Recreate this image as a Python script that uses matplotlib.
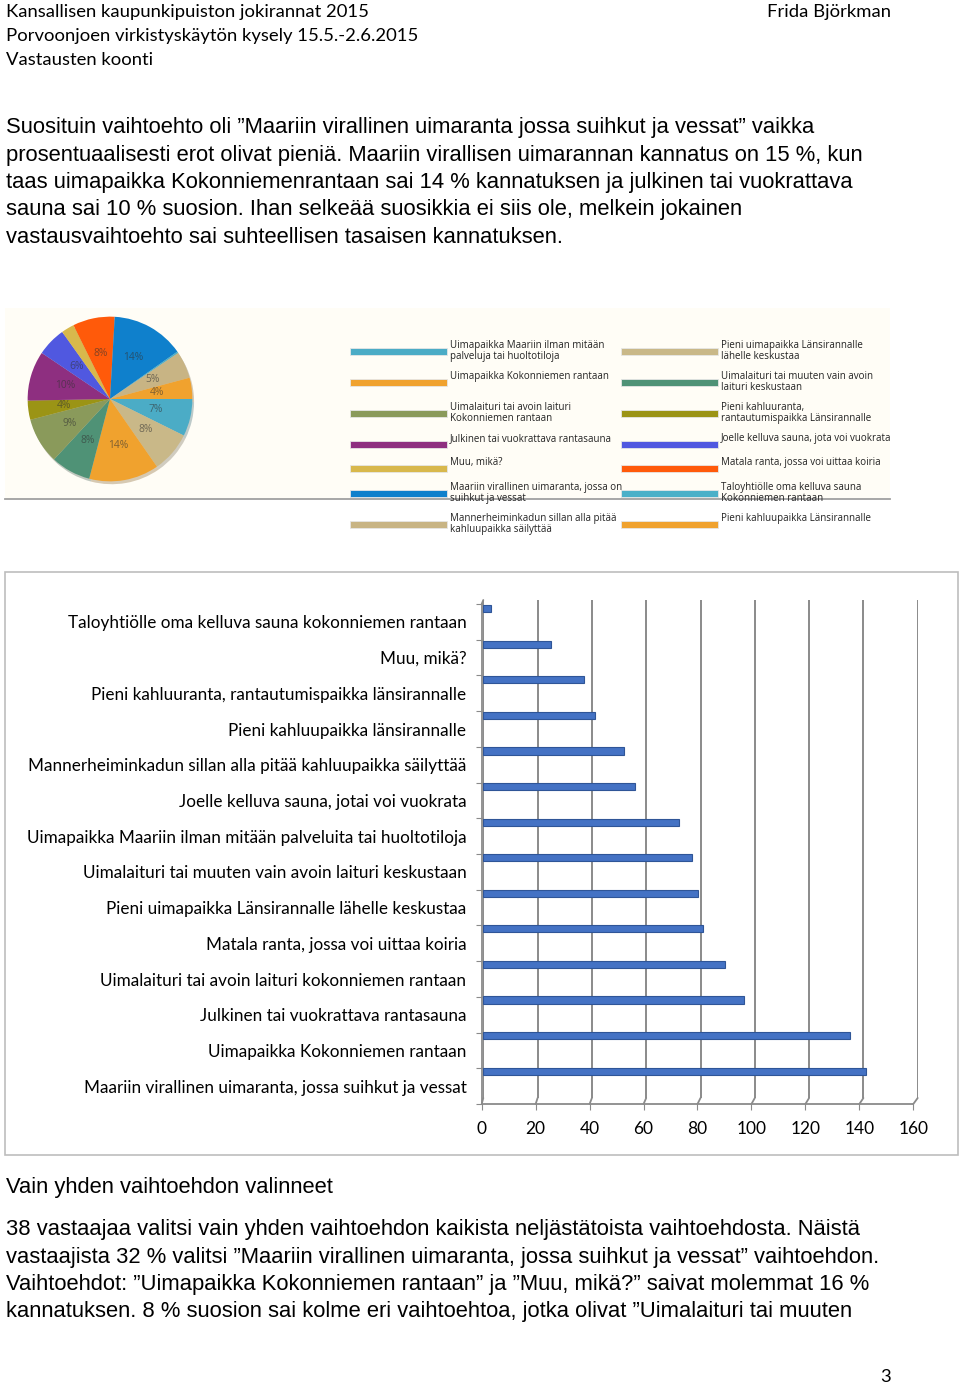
import numpy as np
import matplotlib.pyplot as plt
from matplotlib.patches import Rectangle, ConnectionPatch

W, H = 960, 1386

# page texts
header_lines = ["Kansallisen kaupunkipuiston jokirannat 2015",
                "Porvoonjoen virkistyskäytön kysely 15.5.-2.6.2015",
                "Vastausten koonti"]
header_right = "Frida Björkman"
intro_lines = [
    "Suosituin vaihtoehto oli ”Maariin virallinen uimaranta jossa suihkut ja vessat” vaikka",
    "prosentuaalisesti erot olivat pieniä. Maariin virallisen uimarannan kannatus on 15 %, kun",
    "taas uimapaikka Kokonniemenrantaan sai 14 % kannatuksen ja julkinen tai vuokrattava",
    "sauna sai 10 % suosion. Ihan selkeää suosikkia ei siis ole, melkein jokainen",
    "vastausvaihtoehto sai suhteellisen tasaisen kannatuksen.",
]
section_title = "Vain yhden vaihtoehdon valinneet"
outro_lines = [
    "38 vastaajaa valitsi vain yhden vaihtoehdon kaikista neljästätoista vaihtoehdosta. Näistä",
    "vastaajista 32 % valitsi ”Maariin virallinen uimaranta, jossa suihkut ja vessat” vaihtoehdon.",
    "Vaihtoehdot: ”Uimapaikka Kokonniemen rantaan” ja ”Muu, mikä?” saivat molemmat 16 %",
    "kannatuksen. 8 % suosion sai kolme eri vaihtoehtoa, jotka olivat ”Uimalaituri tai muuten",
]
page_no = "3"

# pie chart (legend order, row by row)
pie_labels = ["Uimapaikka Maariin ilman mitään\npalveluja tai huoltotiloja",
              "Pieni uimapaikka Länsirannalle\nlähelle keskustaa",
              "Uimapaikka Kokonniemen rantaan",
              "Uimalaituri tai muuten vain avoin\nlaituri keskustaan",
              "Uimalaituri tai avoin laituri\nKokonniemen rantaan",
              "Pieni kahluuranta,\nrantautumispaikka Länsirannalle",
              "Julkinen tai vuokrattava rantasauna",
              "Joelle kelluva sauna, jota voi vuokrata",
              "Muu, mikä?",
              "Matala ranta, jossa voi uittaa koiria",
              "Maariin virallinen uimaranta, jossa on\nsuihkut ja vessat",
              "Taloyhtiölle oma kelluva sauna\nKokonniemen rantaan",
              "Mannerheiminkadun sillan alla pitää\nkahluupaikka säilyttää",
              "Pieni kahluupaikka Länsirannalle"]
pie_values = [72, 79, 135, 77, 89, 37, 96, 56, 25, 81, 141, 3, 52, 41]
pie_colors = ["#4bacc6", "#c9b888", "#f0a22e", "#4f9276", "#8a9a5b", "#9b9415",
              "#8e2f80", "#5058e0", "#d8b84c", "#ff5a0a", "#0f80cc", "#4bb0c8",
              "#c8b484", "#f0a22e"]

# bar chart (top to bottom)
bar_labels = ["Taloyhtiölle oma kelluva sauna kokonniemen rantaan",
              "Muu, mikä?",
              "Pieni kahluuranta, rantautumispaikka länsirannalle",
              "Pieni kahluupaikka länsirannalle",
              "Mannerheiminkadun sillan alla pitää kahluupaikka säilyttää",
              "Joelle kelluva sauna, jotai voi vuokrata",
              "Uimapaikka Maariin ilman mitään palveluita tai huoltotiloja",
              "Uimalaituri tai muuten vain avoin laituri keskustaan",
              "Pieni uimapaikka Länsirannalle lähelle keskustaa",
              "Matala ranta, jossa voi uittaa koiria",
              "Uimalaituri tai avoin laituri kokonniemen rantaan",
              "Julkinen tai vuokrattava rantasauna",
              "Uimapaikka Kokonniemen rantaan",
              "Maariin virallinen uimaranta, jossa suihkut ja vessat"]
bar_values = [3, 25, 37, 41, 52, 56, 72, 77, 79, 81, 89, 96, 135, 141]
x_ticks = [0, 20, 40, 60, 80, 100, 120, 140, 160]


def box(x0, y0, x1, y1):
    # pixel box (top-left origin) -> figure rect
    return [x0 / W, 1 - y1 / H, (x1 - x0) / W, (y1 - y0) / H]


fig = plt.figure(figsize=(W / 100, H / 100), dpi=100)
fig.patch.set_facecolor("white")

page = fig.add_axes([0, 0, 1, 1], zorder=0)
page.set_xlim(0, W); page.set_ylim(H, 0); page.axis("off")

hfont = dict(family="Lato", fontsize=13.3, color="black", va="center")
for i, s in enumerate(header_lines):
    page.text(6, 12 + 24.2 * i, s, **hfont)
page.text(891, 12, header_right, ha="right", **hfont)

bfont = dict(family="Liberation Sans", fontsize=15.85, color="black", va="center")
for i, s in enumerate(intro_lines):
    page.text(6, 128 + 27.3 * i, s, **bfont)
page.text(6, 1187, section_title, **bfont)
for i, s in enumerate(outro_lines):
    page.text(6, 1230 + 27.2 * i, s, **bfont)
page.text(891, 1377, page_no, ha="right", **hfont)

# pie panel background and legend
page.add_patch(Rectangle((5, 308), 885, 191, facecolor="#fffdf6", edgecolor="none"))
page.plot([5, 890], [499, 499], color="#a0a0a0", lw=1.3)
row_y = [351, 382, 413, 444, 468, 493, 524]
for k, (lab, col) in enumerate(zip(pie_labels, pie_colors)):
    r, c = divmod(k, 2)
    x0 = 350 if c == 0 else 621
    page.add_patch(Rectangle((x0, row_y[r] - 3.5), 97, 7, facecolor=col,
                             edgecolor="#e6e6e6", lw=0.6))
    page.text(x0 + 100, row_y[r] - 11, lab, family="Open Sans", fontsize=7.05,
              color="#222222", va="top", ha="left", linespacing=1.05)

# bar panel border
page.add_patch(Rectangle((5, 572), 953, 583, facecolor="none", edgecolor="#bdbdbd", lw=1.2))

# pie
axp = fig.add_axes(box(26, 315, 194, 483), zorder=2)
wedges, _, autotexts = axp.pie(
    pie_values, colors=pie_colors, startangle=0, counterclock=False,
    autopct=lambda p: f"{p:.0f}%" if p >= 3.5 else "", pctdistance=0.57,
    textprops=dict(fontsize=7.4, family="Open Sans", color="#333333", alpha=0.6),
    shadow=dict(ox=0.015, oy=-0.025, shade=0.5, alpha=0.3),
    wedgeprops=dict(linewidth=0))
axp.set_xlim(-1.02, 1.02); axp.set_ylim(-1.02, 1.02)

# bar chart: back plane (bars + gridlines) and front plane (labels, floor)
n = len(bar_values)
axb = fig.add_axes(box(483.3, 600, 917.7, 1098), zorder=2)
axb.set_xlim(0, 160); axb.set_ylim(n, 0)
axb.patch.set_alpha(0)
for s in axb.spines.values():
    s.set_visible(False)
axb.set_xticks([]); axb.set_yticks([])
for v in x_ticks:
    axb.axvline(v, color="#8a8a8a", lw=1.4, zorder=1)
ypos = np.arange(n) + 0.245
axb.barh(ypos, bar_values, height=0.2, color="#4472c4", edgecolor="#2f5597",
         linewidth=0.8, zorder=3)

axf = fig.add_axes(box(481.7, 604, 913.3, 1104), zorder=3)
axf.set_xlim(0, 160); axf.set_ylim(n, 0)
axf.patch.set_alpha(0)
for k in ["top", "right"]:
    axf.spines[k].set_visible(False)
axf.spines["left"].set_color("#8a8a8a"); axf.spines["left"].set_linewidth(1.3)
axf.spines["bottom"].set_color("#8a8a8a"); axf.spines["bottom"].set_linewidth(1.3)
axf.set_xticks(x_ticks)
axf.set_xticklabels([str(v) for v in x_ticks], family="Lato", fontsize=12.5)
axf.set_yticks(np.arange(n + 1), minor=False)
axf.set_yticklabels([])
axf.set_yticks(np.arange(n) + 0.5, minor=True)
axf.set_yticklabels(bar_labels, minor=True, family="Lato", fontsize=12.3)
axf.tick_params(axis="y", which="major", length=4, color="#8a8a8a")
axf.tick_params(axis="y", which="minor", length=0, pad=11)
axf.tick_params(axis="x", length=4, color="#8a8a8a", pad=8)
for v in x_ticks:
    fig.add_artist(ConnectionPatch((v, n), (v, n), "data", "data", axesA=axf, axesB=axb,
                                   color="#8a8a8a", lw=1.3))
fig.add_artist(ConnectionPatch((0, 0), (0, 0), "data", "data", axesA=axf, axesB=axb,
                               color="#8a8a8a", lw=1.3))

fig.savefig("out.png", dpi=100)
